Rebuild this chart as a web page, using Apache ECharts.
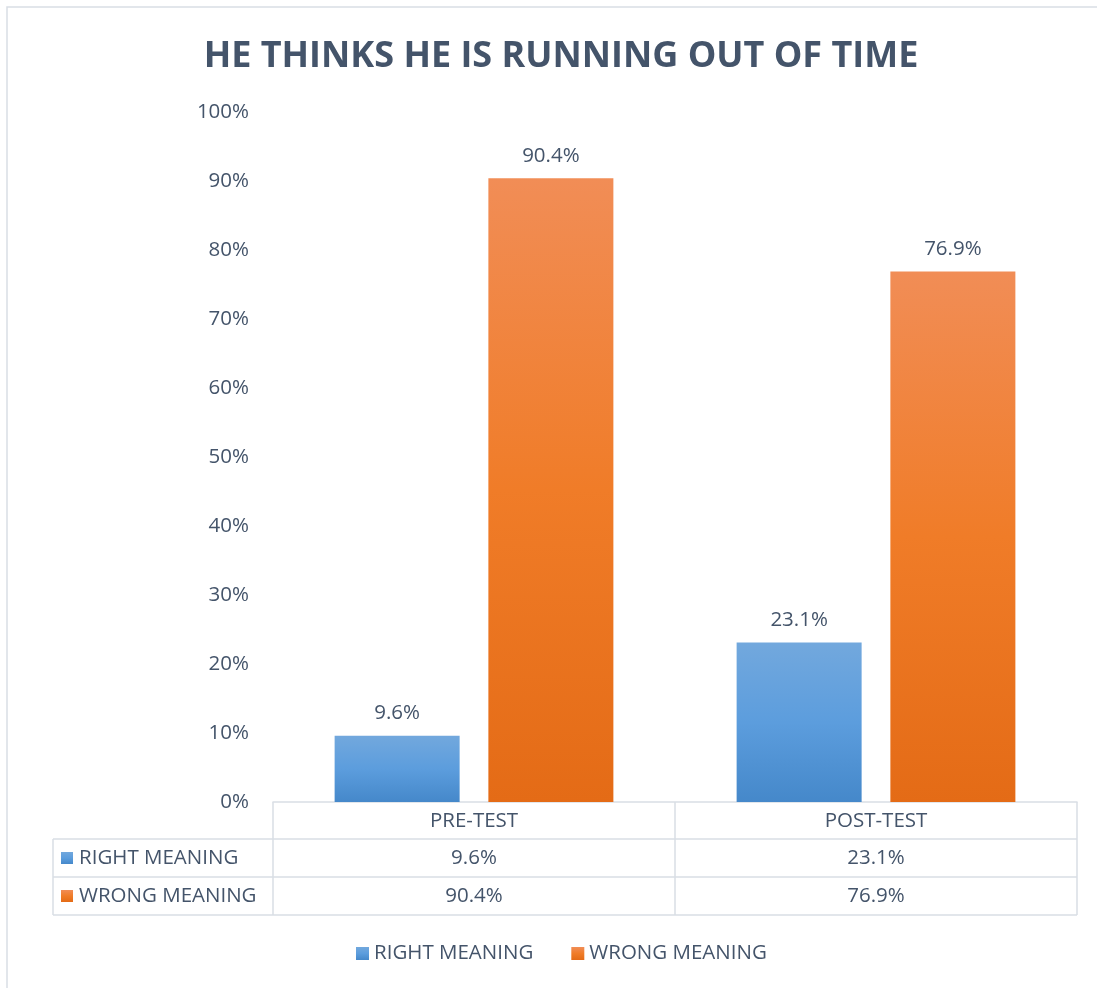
<!DOCTYPE html>
<html>
<head>
<meta charset="utf-8">
<script src="https://cdn.jsdelivr.net/npm/echarts@6/dist/echarts.min.js"></script>
<style>
  html, body { margin: 0; padding: 0; background: #ffffff; }
  #chart { width: 1097px; height: 988px; }
</style>
</head>
<body>
<div id="chart"></div>
<script>
// Chart data
const categories = ['PRE-TEST', 'POST-TEST'];
const seriesNames = ['RIGHT MEANING', 'WRONG MEANING'];
const rightMeaning = [9.6, 23.1];
const wrongMeaning = [90.4, 76.9];
const yMin = 0, yMax = 100, yInterval = 10;

const TEXT = '#44546a';
const LINE = '#d9dee5';
const FONT = '"Open Sans", "Noto Sans", sans-serif';
const FS = 20.5;

const blueFill = new echarts.graphic.LinearGradient(0, 0, 0, 1, [
  { offset: 0, color: '#72a8dd' },
  { offset: 0.5, color: '#5c9ddd' },
  { offset: 1, color: '#4588ca' }
]);
const orangeFill = new echarts.graphic.LinearGradient(0, 0, 0, 1, [
  { offset: 0, color: '#f18d56' },
  { offset: 0.5, color: '#f07c28' },
  { offset: 1, color: '#e46b16' }
]);
const fills = [blueFill, orangeFill];
const seriesData = [rightMeaning, wrongMeaning];

const pct = v => v.toFixed(1) + '%';

const chart = echarts.init(document.getElementById('chart'), null, { renderer: 'canvas' });

const gridLeft = 273, gridRight = 20, gridTop = 112, gridBottom = 186;
const tableLeft = 53;
const rowY = [802, 839, 877, 915];

chart.setOption({
  backgroundColor: '#ffffff',
  animation: false,
  title: {
    text: 'HE THINKS HE IS RUNNING OUT OF TIME',
    left: 556,
    top: 34,
    textAlign: 'center',
    textStyle: { color: TEXT, fontFamily: FONT, fontWeight: 'bold', fontSize: 36 }
  },
  legend: {
    data: seriesNames,
    left: 351,
    top: 938,
    icon: 'rect',
    itemWidth: 13,
    itemHeight: 13,
    itemGap: 38,
    itemStyle: { borderWidth: 0 },
    textStyle: { color: TEXT, fontFamily: FONT, fontSize: FS }
  },
  grid: { left: gridLeft, right: gridRight, top: gridTop, bottom: gridBottom, containLabel: false },
  xAxis: {
    type: 'category',
    data: categories,
    boundaryGap: true,
    axisLine: { show: true, lineStyle: { color: LINE, width: 1.5 } },
    axisTick: { show: true, length: rowY[3] - rowY[0], lineStyle: { color: LINE, width: 1.5 } },
    axisLabel: { color: TEXT, fontFamily: FONT, fontSize: FS, margin: 9 },
    splitLine: { show: false }
  },
  yAxis: {
    type: 'value',
    min: yMin,
    max: yMax,
    interval: yInterval,
    axisLine: { show: false },
    axisTick: { show: false },
    splitLine: { show: false },
    axisLabel: {
      color: TEXT, fontFamily: FONT, fontSize: FS, margin: 24,
      formatter: v => v + '%'
    }
  },
  series: seriesNames.map((name, i) => ({
    name,
    type: 'bar',
    data: seriesData[i],
    barWidth: 125,
    barGap: '23%',
    itemStyle: { color: fills[i] },
    label: {
      show: true,
      position: 'top',
      distance: 12,
      color: TEXT,
      fontFamily: FONT,
      fontSize: FS,
      formatter: p => pct(p.value)
    }
  }))
});

// Data table beneath the plot, built from the same arrays
function drawTable() {
  const width = chart.getWidth();
  const right = width - gridRight;
  const centers = categories.map((c, i) => chart.convertToPixel({ xAxisIndex: 0 }, i));
  const els = [];
  // horizontal rules
  [1, 2, 3].forEach(r => {
    els.push({ type: 'line', shape: { x1: tableLeft, y1: rowY[r], x2: right, y2: rowY[r] },
      style: { stroke: LINE, lineWidth: 1.5 }, silent: true });
  });
  // left border of the label column
  els.push({ type: 'line', shape: { x1: tableLeft, y1: rowY[1], x2: tableLeft, y2: rowY[3] },
    style: { stroke: LINE, lineWidth: 1.5 }, silent: true });
  seriesNames.forEach((name, s) => {
    const cy = (rowY[s + 1] + rowY[s + 2]) / 2;
    els.push({ type: 'rect', shape: { x: 61, y: cy - 6, width: 12, height: 12 },
      style: { fill: fills[s] }, silent: true });
    els.push({ type: 'text', x: 79, y: cy,
      style: { text: name, fill: TEXT, font: FS + 'px ' + FONT, textAlign: 'left', textVerticalAlign: 'middle' },
      silent: true });
    seriesData[s].forEach((v, c) => {
      els.push({ type: 'text', x: centers[c], y: cy,
        style: { text: pct(v), fill: TEXT, font: FS + 'px ' + FONT, textAlign: 'center', textVerticalAlign: 'middle' },
        silent: true });
    });
  });
  // outer frame
  els.push({ type: 'polyline', shape: { points: [[7, 988], [7, 7], [width, 7]] },
    style: { stroke: LINE, lineWidth: 1.5, fill: null }, silent: true });
  chart.setOption({ graphic: { elements: els } });
}
drawTable();
</script>
</body>
</html>
